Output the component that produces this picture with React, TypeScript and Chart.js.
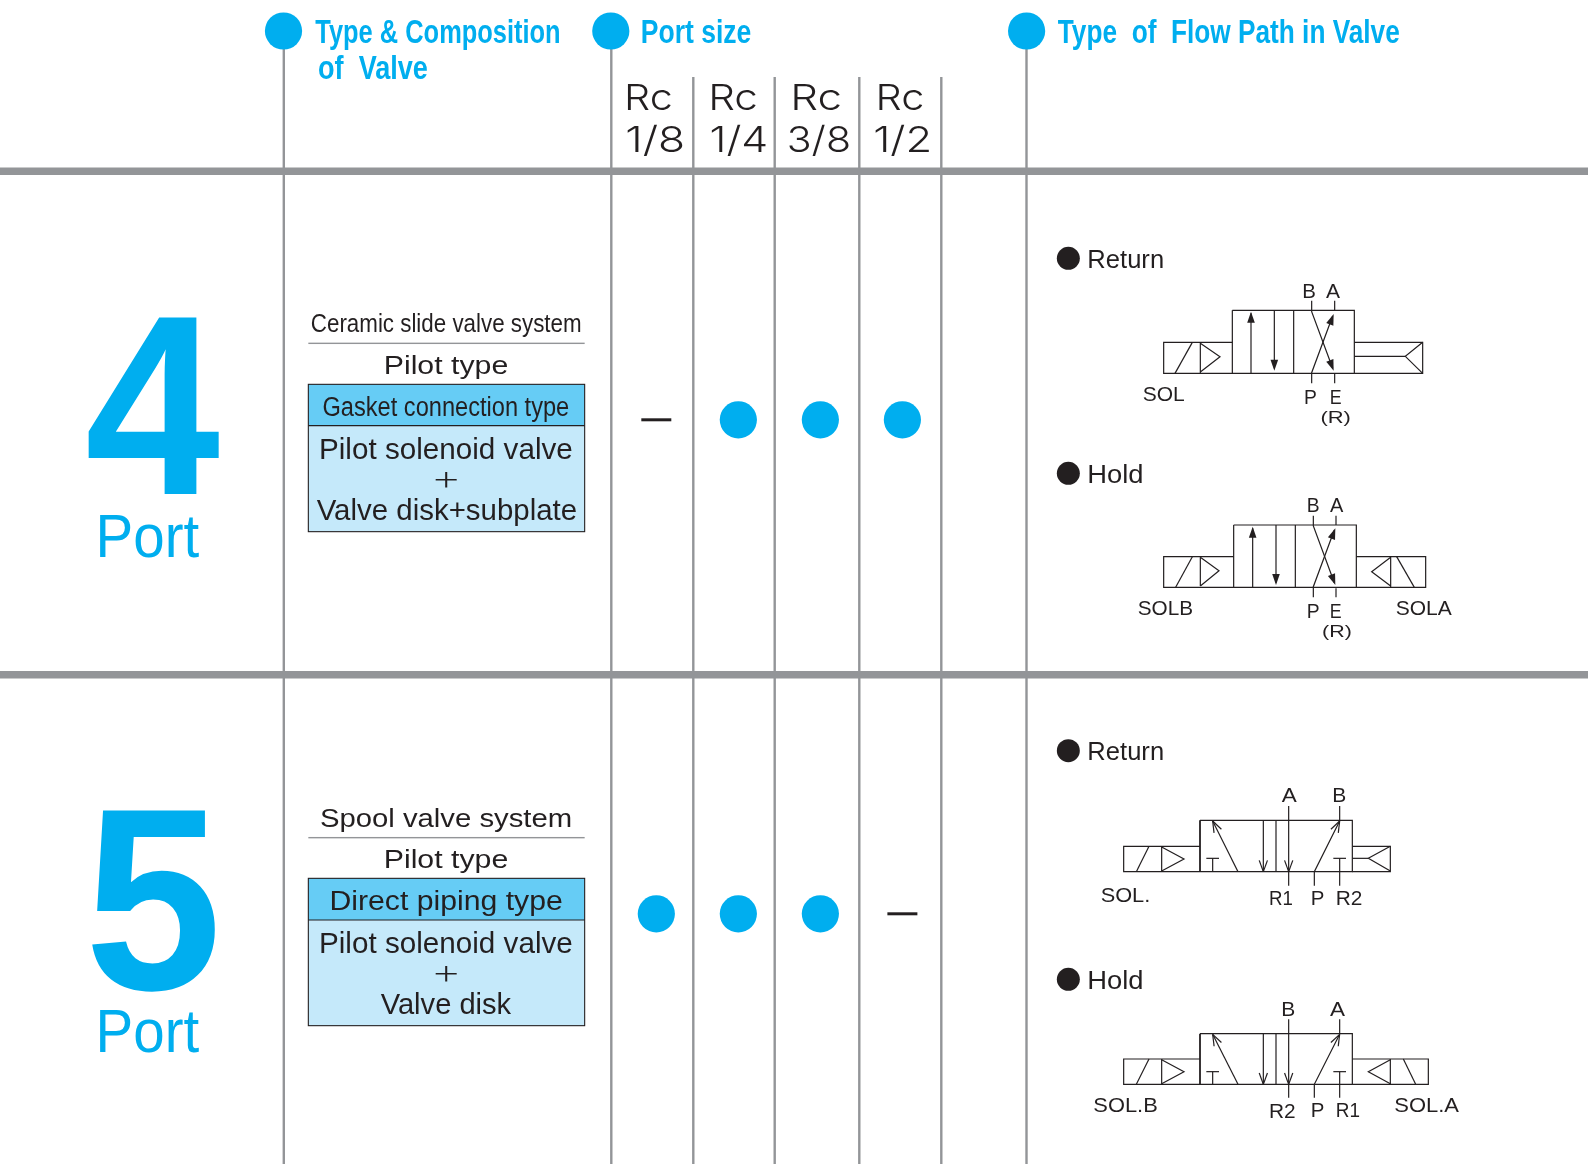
import React, { useEffect, useRef } from "react";
import { Chart, registerables } from "chart.js";

Chart.register(...registerables);

// ---- data ----
const portSizes = ["Rc 1/8", "Rc 1/4", "Rc 3/8", "Rc 1/2"];
const portCounts = ["4 Port", "5 Port"];
const availablePoints = [
  { x: "Rc 1/4", y: "4 Port" },
  { x: "Rc 3/8", y: "4 Port" },
  { x: "Rc 1/2", y: "4 Port" },
  { x: "Rc 1/8", y: "5 Port" },
  { x: "Rc 1/4", y: "5 Port" },
  { x: "Rc 3/8", y: "5 Port" },
];
const unavailablePoints = [
  { x: "Rc 1/8", y: "4 Port" },
  { x: "Rc 1/2", y: "5 Port" },
];

// ---- layout of the surrounding table (not data) ----
const W = 1588;
const H = 1164;
const CYAN = "#00AEEF";
const INK = "#231F20";
const GREY = "#939598";
const SANS = '"Liberation Sans", Arial, sans-serif';
const LIGHT = 'Inter, "Liberation Sans", sans-serif';

type T = [string, number, number, number, number?, number?];

const rcLabels: [string, string, number, number, number, number][] = [
  ["Rc", "1/8", 627.5, 671.4, 626.5, 682.7],
  ["Rc", "1/4", 711.7, 756.6, 710.7, 766.3],
  ["Rc", "3/8", 794, 840.7, 789, 848.7],
  ["Rc", "1/2", 879, 923, 874.4, 929.6],
];

type Diagram = {
  ox: number;
  oy: number;
  dot: [number, number];
  title: T;
  lines: number[][];
  solid: number[][];
  open: number[][];
  thick: number[][];
  labels: T[];
};

const diagrams: Diagram[] = [
  {
    ox: 1040, oy: 230, dot: [85, 85],
    title: ["Return", 148, 368, 112],
    lines: [
      [577, 241, 943, 241, 943, 430, 577, 430, 577, 241],
      [761, 241, 761, 430],
      [577, 337, 371, 337, 371, 430, 577, 430],
      [405, 430, 457, 337],
      [481, 337, 481, 430],
      [481, 340, 540, 380, 481, 426],
      [943, 337, 1148, 337, 1148, 430, 943, 430],
      [943, 379, 1096, 379],
      [1148, 337, 1096, 379, 1148, 430],
      [633, 430, 633, 250],
      [703, 241, 703, 415],
      [815, 212, 815, 245, 878, 415],
      [884, 432, 884, 460],
      [815, 460, 815, 428, 878, 258],
      [884, 240, 884, 212],
    ],
    solid: [
      [633, 245, 633, 430],
      [703, 422, 703, 241],
      [881, 422, 815, 245],
      [881, 252, 815, 428],
    ],
    open: [],
    thick: [],
    labels: [
      ["B", 790, 825, 203],
      ["A", 858, 900, 203],
      ["SOL", 308, 432, 512],
      ["P", 795, 828, 522],
      ["E", 872, 905, 522],
      ["(R)", 845, 930, 578],
    ],
  },
  {
    ox: 1040, oy: 450, dot: [85, 70],
    title: ["Hold", 148, 306, 98],
    lines: [
      [581, 225, 949, 225, 949, 412, 581, 412, 581, 225],
      [766, 225, 766, 412],
      [581, 320, 371, 320, 371, 412, 581, 412],
      [407, 412, 457, 320],
      [481, 322, 481, 408],
      [481, 322, 537, 362, 481, 408],
      [949, 320, 1157, 320, 1157, 412, 949, 412],
      [1052, 320, 1052, 412],
      [1052, 322, 995, 365, 1052, 408],
      [1070, 320, 1123, 412],
      [638, 412, 638, 235],
      [708, 225, 708, 398],
      [820, 197, 820, 228, 883, 398],
      [888, 415, 888, 442],
      [820, 442, 820, 410, 883, 240],
      [888, 225, 888, 197],
    ],
    solid: [
      [638, 230, 638, 412],
      [708, 405, 708, 225],
      [886, 405, 820, 228],
      [886, 235, 820, 410],
    ],
    open: [],
    thick: [],
    labels: [
      ["B", 803, 836, 186],
      ["A", 870, 910, 186],
      ["SOLB", 293, 456, 495],
      ["P", 803, 836, 503],
      ["E", 872, 905, 503],
      ["(R)", 850, 933, 560],
      ["SOLA", 1067, 1235, 495],
    ],
  },
  {
    ox: 1040, oy: 730, dot: [85, 62],
    title: ["Return", 148, 368, 88],
    lines: [
      [480, 271, 937, 271, 937, 425, 251, 425, 251, 349, 480, 349],
      [289, 425, 327, 349],
      [365, 349, 365, 425],
      [365, 351, 432, 387, 365, 423],
      [937, 349, 1051, 349, 1051, 425, 937, 425],
      [937, 385, 985, 385],
      [1051, 349, 985, 385, 1051, 423],
      [594, 425, 518, 273],
      [670, 271, 670, 425],
      [708, 271, 708, 425],
      [746, 228, 746, 467],
      [823, 467, 823, 425, 899, 273],
      [899, 273, 899, 228],
      [518, 425, 518, 385],
      [499, 385, 537, 385],
      [899, 467, 899, 385],
      [880, 385, 918, 385],
    ],
    solid: [],
    open: [
      [518, 273, 594, 425],
      [670, 425, 670, 271],
      [746, 425, 746, 228],
      [899, 273, 823, 425],
    ],
    thick: [[480, 271, 480, 425]],
    labels: [
      ["A", 725, 770, 215],
      ["B", 880, 916, 215],
      ["SOL.", 182, 325, 515],
      ["R1", 690, 757, 525],
      ["P", 815, 850, 525],
      ["R2", 890, 965, 525],
    ],
  },
  {
    ox: 1040, oy: 950, dot: [85, 88],
    title: ["Hold", 148, 306, 116],
    lines: [
      [480, 251, 937, 251, 937, 403, 251, 403, 251, 327, 480, 327],
      [289, 403, 327, 327],
      [365, 327, 365, 403],
      [365, 329, 432, 365, 365, 401],
      [937, 327, 1165, 327, 1165, 403, 937, 403],
      [1051, 327, 1051, 403],
      [1051, 329, 985, 365, 1051, 401],
      [1090, 327, 1127, 403],
      [594, 403, 518, 253],
      [670, 251, 670, 403],
      [708, 251, 708, 403],
      [746, 208, 746, 443],
      [823, 443, 823, 403, 899, 253],
      [899, 253, 899, 208],
      [518, 403, 518, 365],
      [499, 365, 537, 365],
      [899, 443, 899, 365],
      [880, 365, 918, 365],
    ],
    solid: [],
    open: [
      [518, 253, 594, 403],
      [670, 403, 670, 251],
      [746, 403, 746, 208],
      [899, 253, 823, 403],
    ],
    thick: [[480, 251, 480, 403]],
    labels: [
      ["B", 727, 763, 197],
      ["A", 870, 915, 197],
      ["SOL.B", 160, 350, 487],
      ["R2", 690, 765, 503],
      ["P", 815, 850, 500],
      ["R1", 890, 958, 500],
      ["SOL.A", 1063, 1257, 487],
    ],
  },
];

type ValveBox = {
  oy: number;
  rule: number;
  top: number;
  mid: number;
  bottom: number;
  system: T;
  pilot: T;
  head: T;
  body1: T;
  plusY: number;
  body2: T;
};

const valveBoxes: ValveBox[] = [
  {
    oy: 290, rule: 160, top: 283, mid: 407, bottom: 725,
    system: ["Ceramic slide valve system", 65, 872, 125],
    pilot: ["Pilot type", 288, 652, 252],
    head: ["Gasket connection type", 100, 835, 377],
    body1: ["Pilot solenoid valve", 93, 845, 508],
    plusY: 570,
    body2: ["Valve disk+subplate", 80, 858, 690],
  },
  {
    oy: 790, rule: 143, top: 265, mid: 390, bottom: 707,
    system: ["Spool valve system", 93, 843, 110],
    pilot: ["Pilot type", 288, 652, 234],
    head: ["Direct piping type", 125, 815, 360],
    body1: ["Pilot solenoid valve", 93, 845, 490],
    plusY: 552,
    body2: ["Valve disk", 272, 665, 672],
  },
];

function fit(
  ctx: CanvasRenderingContext2D,
  str: string,
  x0: number,
  x1: number,
  base: number,
  size: number,
  weight: string,
  color: string,
  family: string = SANS
) {
  ctx.save();
  ctx.font = `${weight} ${size}px ${family}`;
  ctx.fillStyle = color;
  ctx.textAlign = "left";
  ctx.textBaseline = "alphabetic";
  const m = ctx.measureText(str);
  const w = m.actualBoundingBoxLeft + m.actualBoundingBoxRight;
  const s = (x1 - x0) / w;
  ctx.translate(x0 + m.actualBoundingBoxLeft * s, base);
  ctx.scale(s, 1);
  ctx.fillText(str, 0, 0);
  ctx.restore();
}

// fits a glyph into a box in both directions, for the large numerals
function fitBox(
  ctx: CanvasRenderingContext2D,
  str: string,
  x0: number,
  x1: number,
  y0: number,
  y1: number,
  weight: string,
  color: string,
  family: string = SANS
) {
  ctx.save();
  ctx.font = `${weight} 200px ${family}`;
  const m = ctx.measureText(str);
  const h = m.actualBoundingBoxAscent + m.actualBoundingBoxDescent;
  const size = (200 * (y1 - y0)) / h;
  ctx.restore();
  fit(ctx, str, x0, x1, y1 - (m.actualBoundingBoxDescent * size) / 200, size, weight, color, family);
}

function vline(ctx: CanvasRenderingContext2D, x: number, y0: number, y1: number) {
  ctx.fillStyle = GREY;
  ctx.fillRect(x - 1.2, y0, 2.4, y1 - y0);
}

const tablePlugin = {
  id: "valveTable",
  beforeDatasetsDraw(chart: any) {
    const ctx: CanvasRenderingContext2D = chart.ctx;
    ctx.save();
    ctx.fillStyle = "#fff";
    ctx.fillRect(0, 0, W, H);

    // column rules
    [283.8, 611.3, 1026.5].forEach((x) => vline(ctx, x, 31, H));
    [693.3, 774.7, 859.3, 941.3].forEach((x) => vline(ctx, x, 77, H));
    // row bands
    ctx.fillStyle = GREY;
    ctx.fillRect(0, 167.5, W, 7.5);
    ctx.fillRect(0, 671, W, 7.5);

    // header bullets
    ctx.fillStyle = CYAN;
    [283.5, 610.8, 1026.6].forEach((x) => {
      ctx.beginPath();
      ctx.arc(x, 31, 18.6, 0, Math.PI * 2);
      ctx.fill();
    });
    fit(ctx, "Type & Composition", 315.3, 559.7, 42.7, 33, "bold", CYAN);
    fit(ctx, "of  Valve", 318.9, 427.6, 79, 33, "bold", CYAN);
    fit(ctx, "Port size", 642.4, 751, 42.7, 33, "bold", CYAN);
    fit(ctx, "Type  of  Flow Path in Valve", 1057.8, 1399.5, 42.7, 33, "bold", CYAN);

    rcLabels.forEach(([a, b, x0, x1, x2, x3]) => {
      fit(ctx, a, x0, x1, 109.5, 36, "300", INK, LIGHT);
      fit(ctx, b, x2, x3, 152, 36, "300", INK, LIGHT);
    });

    // large port numbers
    fitBox(ctx, "4", 85, 221.5, 317, 494, "bold", CYAN);
    fit(ctx, "Port", 99.3, 199.3, 557, 60.5, "normal", CYAN);
    fitBox(ctx, "5", 88.5, 215.5, 810, 991.7, "bold", CYAN);
    fit(ctx, "Port", 99.3, 199.3, 1051.5, 60.5, "normal", CYAN);

    // valve composition boxes
    valveBoxes.forEach((b) => {
      const X = (v: number) => 290 + v / 3;
      const Y = (v: number) => b.oy + v / 3;
      const t = (r: T, size: number, weight = "normal") =>
        fit(ctx, r[0], X(r[1]), X(r[2]), Y(r[3]), size, weight, INK);
      const left = X(55);
      const right = X(884);
      ctx.fillStyle = GREY;
      ctx.fillRect(left, Y(b.rule) - 0.7, right - left, 1.4);
      ctx.fillStyle = "#66CCF5";
      ctx.fillRect(left, Y(b.top), right - left, Y(b.mid) - Y(b.top));
      ctx.fillStyle = "#C5E9FA";
      ctx.fillRect(left, Y(b.mid), right - left, Y(b.bottom) - Y(b.mid));
      ctx.strokeStyle = INK;
      ctx.lineWidth = 1.1;
      ctx.strokeRect(left, Y(b.top), right - left, Y(b.bottom) - Y(b.top));
      ctx.beginPath();
      ctx.moveTo(left, Y(b.mid));
      ctx.lineTo(right, Y(b.mid));
      ctx.stroke();
      t(b.system, 26.5);
      t(b.pilot, 26.6);
      t(b.head, 27);
      t(b.body1, 29);
      t(b.body2, 29);
      fit(ctx, "+", 434.5, 457.5, Y(b.plusY) + 9.5, 36, "200", INK, LIGHT);
    });

    // flow path diagrams
    diagrams.forEach((d) => {
      const X = (v: number) => d.ox + v / 3;
      const Y = (v: number) => d.oy + v / 3;
      ctx.fillStyle = INK;
      ctx.beginPath();
      ctx.arc(X(d.dot[0]), Y(d.dot[1]), 11.5, 0, Math.PI * 2);
      ctx.fill();
      fit(ctx, d.title[0], X(d.title[1]), X(d.title[2]), Y(d.title[3]) + 0.5, 26, "normal", INK);

      ctx.strokeStyle = INK;
      ctx.lineWidth = 1.2;
      ctx.lineJoin = "miter";
      d.lines.forEach((p) => {
        ctx.beginPath();
        ctx.moveTo(X(p[0]), Y(p[1]));
        for (let i = 2; i < p.length; i += 2) ctx.lineTo(X(p[i]), Y(p[i + 1]));
        ctx.stroke();
      });
      ctx.lineWidth = 1.8;
      d.thick.forEach((p) => {
        ctx.beginPath();
        ctx.moveTo(X(p[0]), Y(p[1]));
        ctx.lineTo(X(p[2]), Y(p[3]));
        ctx.stroke();
      });
      d.solid.forEach(([tx, ty, fx, fy]) => {
        const a = Math.atan2(fy - ty, fx - tx);
        const L = 11;
        const HW = 3.8;
        const cx = X(tx) + Math.cos(a) * L;
        const cy = Y(ty) + Math.sin(a) * L;
        ctx.fillStyle = INK;
        ctx.beginPath();
        ctx.moveTo(X(tx), Y(ty));
        ctx.lineTo(cx - Math.sin(a) * HW, cy + Math.cos(a) * HW);
        ctx.lineTo(cx + Math.sin(a) * HW, cy - Math.cos(a) * HW);
        ctx.closePath();
        ctx.fill();
      });
      ctx.lineWidth = 1.2;
      d.open.forEach(([tx, ty, fx, fy]) => {
        const a = Math.atan2(fy - ty, fx - tx);
        const L = 12;
        [-0.35, 0.35].forEach((da) => {
          ctx.beginPath();
          ctx.moveTo(X(tx), Y(ty));
          ctx.lineTo(X(tx) + Math.cos(a + da) * L, Y(ty) + Math.sin(a + da) * L);
          ctx.stroke();
        });
      });
      d.labels.forEach((l) => {
        const small = l[0].startsWith("(");
        fit(ctx, l[0], X(l[1]), X(l[2]), Y(l[3]), small ? 17 : 21, "normal", INK);
      });
    });
    ctx.restore();
  },
};

export default function App() {
  const ref = useRef<HTMLCanvasElement>(null);
  useEffect(() => {
    document.body.style.margin = "0";
    const chart = new Chart(ref.current as HTMLCanvasElement, {
      type: "scatter",
      data: {
        labels: portSizes,
        datasets: [
          {
            label: "Available",
            data: availablePoints as any,
            pointStyle: "circle",
            pointRadius: 18.6,
            pointBackgroundColor: CYAN,
            pointBorderColor: CYAN,
            pointBorderWidth: 0,
            showLine: false,
            clip: false,
          },
          {
            label: "Not available",
            data: unavailablePoints as any,
            pointStyle: "line",
            pointRadius: 15,
            pointBorderColor: INK,
            pointBorderWidth: 3,
            showLine: false,
            clip: false,
          },
        ],
      },
      options: {
        responsive: false,
        animation: false,
        events: [],
        layout: { padding: { left: 615.3, right: 644.6, top: 419.8, bottom: 250.2 } },
        plugins: { legend: { display: false }, tooltip: { enabled: false }, title: { display: false } },
        scales: {
          x: { type: "category", labels: portSizes, offset: true, display: false },
          y: { type: "category", labels: portCounts, offset: false, display: false },
        },
      },
      plugins: [tablePlugin],
    });
    return () => chart.destroy();
  }, []);
  return (
    <canvas
      ref={ref}
      width={W}
      height={H}
      style={{ display: "block", position: "absolute", left: 0, top: 0, width: W, height: H }}
    />
  );
}
